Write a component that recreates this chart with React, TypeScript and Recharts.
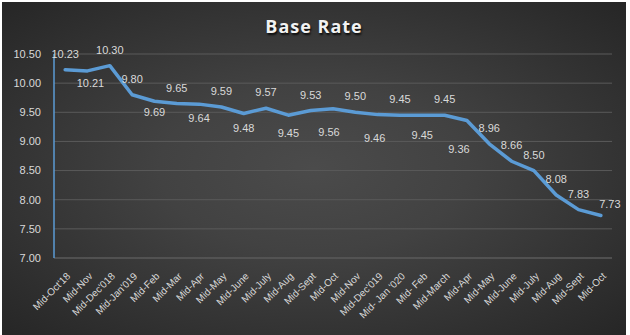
import React from 'react';
import { LineChart, Line, XAxis, YAxis, CartesianGrid, LabelList } from 'recharts';

const categories: string[] = [
  "Mid-Oct'18", 'Mid-Nov', "Mid-Dec'018", "Mid-Jan'019", 'Mid-Feb', 'Mid-Mar', 'Mid-Apr', 'Mid-May',
  'Mid-June', 'Mid-July', 'Mid-Aug', 'Mid-Sept', 'Mid-Oct', 'Mid-Nov', "Mid-Dec'019", "Mid- Jan '020",
  'Mid- Feb', 'Mid-March', 'Mid-Apr', 'Mid-May', 'Mid-June', 'Mid-July', 'Mid-Aug', 'Mid-Sept', 'Mid-Oct',
];

const baseRate: number[] = [
  10.23, 10.21, 10.3, 9.8, 9.69, 9.65, 9.64, 9.59, 9.48, 9.57, 9.45, 9.53, 9.56,
  9.5, 9.46, 9.45, 9.45, 9.45, 9.36, 8.96, 8.66, 8.5, 8.08, 7.83, 7.73,
];

const yTicks: number[] = [7, 7.5, 8, 8.5, 9, 9.5, 10, 10.5];

const data = categories.map((c, i) => ({ idx: i, name: c, rate: baseRate[i] }));

// label placement (style): below-offsets for labels drawn under the line
const BELOW_DY: Record<number, number> = { 1: 12, 4: 11, 6: 14, 8: 15, 10: 18, 12: 23, 14: 23, 16: 20, 18: 29 };
const BELOW_DX: Record<number, number> = { 1: 3, 12: -4, 14: -3, 18: -8 };

const FONT = '"Liberation Sans", Arial, sans-serif';

const DataLabel = (props: any) => {
  const { x, y, index, value } = props;
  let cx = x;
  let cy = y - 16;
  if (BELOW_DY[index] !== undefined) {
    cy = y + BELOW_DY[index];
    cx = x + (BELOW_DX[index] || 0);
  }
  if (index === categories.length - 1) {
    cx = x + 9;
    cy = y - 11;
  }
  return (
    <text x={cx} y={cy} textAnchor="middle" dominantBaseline="central" fill="#d9d9d9" fontSize={11} fontFamily={FONT}>
      {Number(value).toFixed(2)}
    </text>
  );
};

const XTick = (props: any) => {
  const { x, y, payload } = props;
  return (
    <g transform={`translate(${x + 3},${y + 8})`}>
      <text x={0} y={0} dy={4} textAnchor="end" transform="rotate(-45)" fill="#d9d9d9" fontSize={10} fontFamily={FONT}>
        {categories[payload.value]}
      </text>
    </g>
  );
};

export default function App() {
  return (
    <div style={{ position: 'absolute', left: 0, top: 0, width: 630, height: 335, background: '#ffffff' }}>
      <div
        style={{
          position: 'absolute',
          left: 2,
          top: 2,
          width: 624,
          height: 333,
          background: 'radial-gradient(ellipse at 50% 50%, #4b4b4b 0%, #424242 35%, #262626 100%)',
        }}
      >
        <div
          style={{
            position: 'absolute',
            left: 0,
            top: 12,
            width: 624,
            textAlign: 'center',
            fontFamily: '"Open Sans", sans-serif',
            fontWeight: 700,
            fontSize: 18,
            letterSpacing: 1,
            color: '#f2f2f2',
            textShadow: '1px 2px 2px rgba(0,0,0,0.8)',
            lineHeight: '24px',
          }}
        >
          Base Rate
        </div>
        <div style={{ position: 'absolute', left: 0, top: 0 }}>
          <LineChart width={624} height={333} data={data} margin={{ top: 52, right: 14, bottom: 0, left: 0 }}>
            <CartesianGrid horizontal vertical={false} stroke="#5a5a5a" strokeWidth={1} />
            <XAxis
              dataKey="idx"
              type="category"
              scale="band"
              height={77}
              axisLine={{ stroke: '#5a5a5a' }}
              tickLine={false}
              interval={0}
              tick={<XTick />}
            />
            <YAxis
              width={52}
              domain={[7, 10.5]}
              ticks={yTicks}
              type="number"
              axisLine={{ stroke: '#5b9bd5', strokeWidth: 1.5 }}
              tickLine={false}
              tickMargin={7}
              tick={{ fill: '#d9d9d9', fontSize: 11, fontFamily: FONT }}
              tickFormatter={(v: number) => v.toFixed(2)}
            />
            <Line
              type="linear"
              dataKey="rate"
              stroke="#5b9bd5"
              strokeWidth={3.5}
              strokeLinejoin="round"
              strokeLinecap="round"
              dot={false}
              activeDot={false}
              isAnimationActive={false}
            >
              <LabelList dataKey="rate" content={<DataLabel />} />
            </Line>
          </LineChart>
        </div>
      </div>
    </div>
  );
}
